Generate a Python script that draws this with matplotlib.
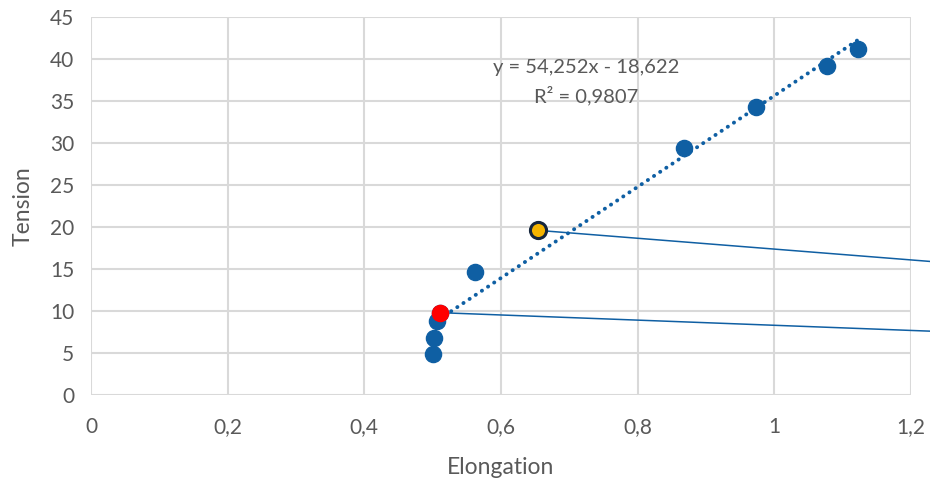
import matplotlib.pyplot as plt
import numpy as np

# ── Data ──────────────────────────────────────────────────────────────────────
elongation = [0.500, 0.502, 0.506, 0.511, 0.562, 0.654, 0.868, 0.973, 1.077, 1.122]
tension = [4.9, 6.8, 8.8, 9.8, 14.6, 19.6, 29.4, 34.3, 39.2, 41.2]

red_pt = (0.511, 9.8)
yellow_pt = (0.654, 19.6)

# leader lines running off to the right edge
lead_x_end = [1.228, 1.228]
lead_y_end = [7.6, 15.9]

slope, intercept = 54.252, -18.622
eq_text = "y = 54,252x - 18,622"
r2_text = "R² = 0,9807"

x_ticks = [0, 0.2, 0.4, 0.6, 0.8, 1, 1.2]
x_tick_labels = ["0", "0,2", "0,4", "0,6", "0,8", "1", "1,2"]
y_ticks = [0, 5, 10, 15, 20, 25, 30, 35, 40, 45]

# ── Style ─────────────────────────────────────────────────────────────────────
BLUE = "#0F5FA3"
GREY_TXT = "#595959"
GRID = "#D9D9D9"

plt.rcParams.update({
    "font.family": ["Lato", "DejaVu Sans"],
})

fig = plt.figure(figsize=(9.30, 4.79), dpi=100)
ax = fig.add_axes([91 / 930, 1 - 395 / 479, (911 - 91) / 930, (395 - 17) / 479])

# trendline
tx = np.array([min(elongation), max(elongation)])
ax.plot(tx, slope * tx + intercept, color=BLUE, linewidth=2.8,
        linestyle=(0, (0.05, 1.85)), dash_capstyle="round", zorder=2)

# leader lines
ax.plot([red_pt[0], lead_x_end[0]], [red_pt[1], lead_y_end[0]],
        color=BLUE, linewidth=1.1, clip_on=False, zorder=2)
ax.plot([yellow_pt[0], lead_x_end[1]], [yellow_pt[1], lead_y_end[1]],
        color=BLUE, linewidth=1.1, clip_on=False, zorder=2)

ax.scatter(elongation, tension, s=135, color=BLUE, zorder=3, clip_on=False)
ax.scatter([red_pt[0]], [red_pt[1]], s=135, color="#FF0000", zorder=4)
ax.scatter([yellow_pt[0]], [yellow_pt[1]], s=135, color="#F5B400",
           edgecolor="#16263D", linewidth=2.2, zorder=4)

ax.text(0.724, 39.0, eq_text, ha="center", va="center", fontsize=14.5, color=GREY_TXT)
ax.text(0.724, 35.6, r2_text, ha="center", va="center", fontsize=14.5, color=GREY_TXT)

ax.set_xlim(0, 1.2)
ax.set_ylim(0, 45)
ax.set_xticks(x_ticks)
ax.set_xticklabels(x_tick_labels)
ax.set_yticks(y_ticks)
ax.tick_params(length=0, labelsize=15, colors=GREY_TXT, pad=12)
ax.tick_params(axis="x", pad=16)
ax.grid(True, color=GRID, linewidth=1.5)
for s in ax.spines.values():
    s.set_visible(False)
ax.set_axisbelow(True)

ax.set_xlabel("Elongation", fontsize=16.5, color=GREY_TXT, labelpad=14)
ax.set_ylabel("Tension", fontsize=16.5, color=GREY_TXT, labelpad=12)

fig.savefig("out.png", dpi=100)
